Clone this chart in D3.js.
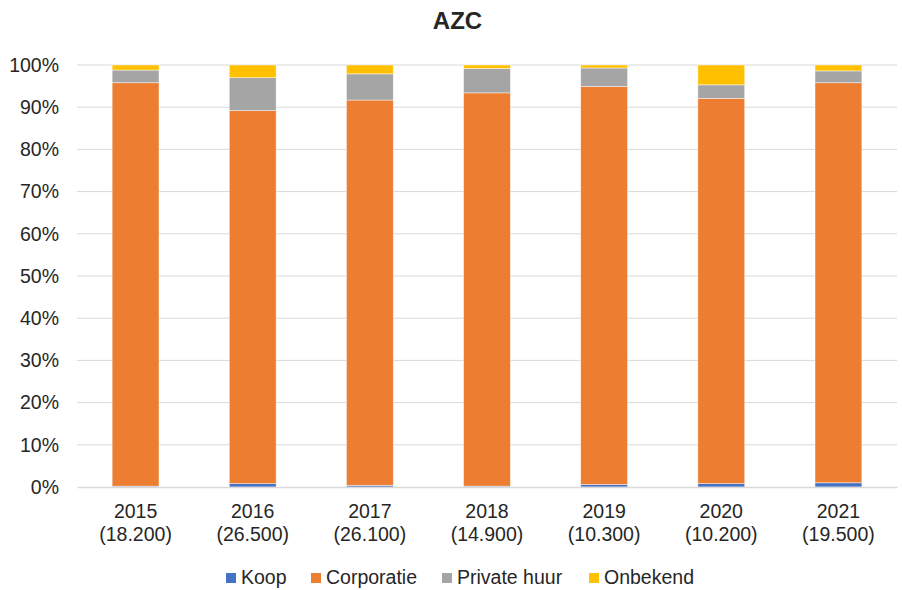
<!DOCTYPE html>
<html>
<head>
<meta charset="utf-8">
<script src="https://cdn.jsdelivr.net/npm/d3@7"></script>
<style>
  body { margin: 0; background: #fff; }
  text { font-family: "Liberation Sans", Arial, sans-serif; fill: #262626; }
</style>
</head>
<body>
<div id="chart"></div>
<script>
// AZC - stacked 100% bars per year

const years = ["2015", "2016", "2017", "2018", "2019", "2020", "2021"];
const counts = ["(18.200)", "(26.500)", "(26.100)", "(14.900)", "(10.300)", "(10.200)", "(19.500)"];
const seriesNames = ["Koop", "Corporatie", "Private huur", "Onbekend"];
const koop = [0.2, 0.8, 0.4, 0.2, 0.6, 0.8, 1.0];
const corporatie = [95.6, 88.4, 91.3, 93.2, 94.3, 91.3, 94.8];
const privateHuur = [3.0, 7.8, 6.2, 5.8, 4.4, 3.2, 2.8];
const onbekend = [1.2, 3.0, 2.1, 0.8, 0.7, 4.7, 1.4];
const colors = ["#4472c4", "#ed7d31", "#a5a5a5", "#ffc000"];
const yTicks = [0, 10, 20, 30, 40, 50, 60, 70, 80, 90, 100];

const width = 902, height = 590;
const margin = {top: 65, right: 5, bottom: 103, left: 77};

const svg = d3.select("#chart").append("svg")
    .attr("width", width).attr("height", height);

// rows for the stack
let rows = years.map((y, i) => ({
    year: y, count: counts[i],
    "Koop": koop[i], "Corporatie": corporatie[i],
    "Private huur": privateHuur[i], "Onbekend": onbekend[i]
}));

let stacked = d3.stack().keys(seriesNames).offset(d3.stackOffsetExpand)(rows);

let x = d3.scaleBand()
    .domain(years)
    .range([margin.left, width - margin.right])
    .paddingInner(0.6).paddingOuter(0.3);

let y = d3.scaleLinear()
    .domain([0, 1])
    .range([height - margin.bottom, margin.top]);

let color = d3.scaleOrdinal().domain(seriesNames).range(colors);

// gridlines
svg.append("g")
    .selectAll("line")
    .data(yTicks.filter(t => t > 0))
    .enter().append("line")
    .attr("x1", margin.left).attr("x2", width - margin.right)
    .attr("y1", d => y(d / 100)).attr("y2", d => y(d / 100))
    .attr("stroke", "#d9d9d9").attr("stroke-width", 1);

// y axis labels
let yAxis = d3.axisLeft(y)
    .tickValues(yTicks.map(t => t / 100))
    .tickFormat(d3.format(".0%"))
    .tickSize(0).tickPadding(18);

let gy = svg.append("g")
    .attr("transform", "translate(" + margin.left + ",0)")
    .call(yAxis);
gy.select(".domain").remove();
gy.selectAll("text").style("font-size", "19.5px").attr("fill", "#262626");

// bars
svg.append("g")
    .selectAll("g")
    .data(stacked)
    .enter().append("g")
    .attr("fill", d => color(d.key))
    .selectAll("rect")
    .data(d => d)
    .enter().append("rect")
    .attr("x", d => x(d.data.year))
    .attr("width", x.bandwidth())
    .attr("y", d => y(d[1]))
    .attr("height", d => y(d[0]) - y(d[1]))
    .attr("stroke", "#ffffff")
    .attr("stroke-opacity", 0.6)
    .attr("stroke-width", 0.75);

// x axis
let xAxis = d3.axisBottom(x).tickSize(0).tickFormat("");
let gx = svg.append("g")
    .attr("transform", "translate(0," + (height - margin.bottom) + ")")
    .call(xAxis);
gx.select(".domain").attr("stroke", "#d9d9d9").attr("stroke-width", 1.5);

let labels = svg.append("g")
    .selectAll("text")
    .data(rows)
    .enter().append("text")
    .attr("text-anchor", "middle")
    .style("font-size", "19.5px")
    .attr("fill", "#262626");
labels.append("tspan")
    .attr("x", d => x(d.year) + x.bandwidth() / 2)
    .attr("y", 518)
    .text(d => d.year);
labels.append("tspan")
    .attr("x", d => x(d.year) + x.bandwidth() / 2)
    .attr("y", 541)
    .text(d => d.count);

// title
svg.append("text")
    .attr("x", 457.5).attr("y", 29)
    .attr("text-anchor", "middle")
    .style("font-size", "24px").style("font-weight", "bold")
    .attr("fill", "#000")
    .text("AZC");

// legend
let legendX = [226, 311, 442, 589];
let legend = svg.append("g").selectAll("g")
    .data(seriesNames)
    .enter().append("g")
    .attr("transform", (d, i) => "translate(" + legendX[i] + ",573)");
legend.append("rect")
    .attr("width", 10).attr("height", 10)
    .attr("fill", d => color(d));
legend.append("text")
    .attr("x", 15).attr("y", 11)
    .style("font-size", "19.5px")
    .attr("fill", "#262626")
    .text(d => d);
</script>
</body>
</html>
